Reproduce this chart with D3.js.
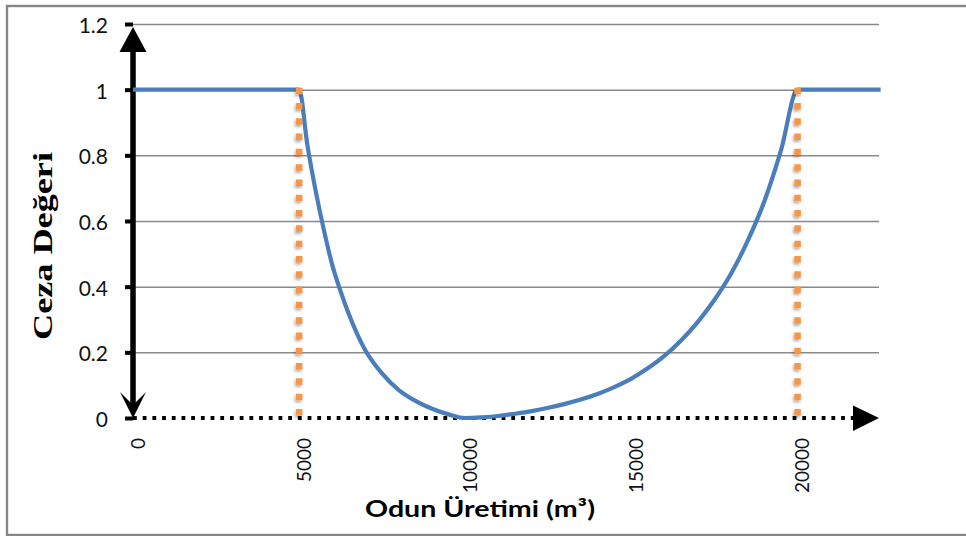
<!DOCTYPE html>
<html>
<head>
<meta charset="utf-8">
<script src="https://cdn.jsdelivr.net/npm/d3@7"></script>
<style>
  html, body { margin: 0; padding: 0; background: #fff; }
  svg { display: block; }
</style>
</head>
<body>
<svg id="chart" width="966" height="536"></svg>
<script>
// Penalty curve: wood production (m³) vs. penalty value
const productionValues = [0, 5000, 5250, 5500, 5750, 6000, 6250, 6500, 6750, 7000, 7500, 8000, 8500, 9000, 9500, 10000,
  10500, 11000, 11500, 12000, 12500, 13000, 13500, 14000, 14500, 15000, 15500, 16000, 16500, 17000, 17500,
  18000, 18500, 19000, 19500, 20000, 22500];
const penaltyValues = [1, 1, 0.83, 0.69, 0.57, 0.465, 0.385, 0.315, 0.255, 0.205, 0.135, 0.085, 0.052, 0.028, 0.011, 0,
  0.002, 0.006, 0.013, 0.021, 0.031, 0.043, 0.057, 0.074, 0.095, 0.12, 0.152, 0.19, 0.237, 0.293, 0.36,
  0.44, 0.54, 0.66, 0.815, 1, 1];

// Lower and upper production limits
const limitValues = [5000, 20000];

const yTickValues = [0, 0.2, 0.4, 0.6, 0.8, 1, 1.2];
const xTickValues = [0, 5000, 10000, 15000, 20000];

const yTitle = "Ceza Değeri";
const xTitle = "Odun Üretimi (m³)";

const svg = d3.select("#chart");

const x = d3.scaleLinear().domain([0, 22450]).range([133, 879]);
const y = d3.scaleLinear().domain([0, 1.2]).range([418, 24]);

// Outer frame
svg.append("rect")
  .attr("x", 7).attr("y", 6)
  .attr("width", 970).attr("height", 529)
  .attr("fill", "none")
  .attr("stroke", "#868686")
  .attr("stroke-width", 2.4);

const defs = svg.append("defs");
const shadow = defs.append("filter").attr("id", "soft-shadow")
  .attr("x", "-50%").attr("y", "-5%").attr("width", "200%").attr("height", "110%");
shadow.append("feDropShadow")
  .attr("dx", -1).attr("dy", 2).attr("stdDeviation", 1.8)
  .attr("flood-color", "#000").attr("flood-opacity", 0.35);

// Horizontal gridlines
svg.append("g")
  .attr("transform", `translate(${x(0)},0)`)
  .call(d3.axisLeft(y).tickValues(yTickValues.filter(v => v > 0))
    .tickSize(-(x.range()[1] - x.range()[0])).tickFormat(""))
  .call(g => g.select(".domain").remove())
  .call(g => g.selectAll(".tick line").attr("stroke", "#898989").attr("stroke-width", 1.5));

// Y axis ticks and labels
svg.append("g")
  .attr("transform", `translate(${x(0)},0)`)
  .call(d3.axisLeft(y).tickValues(yTickValues).tickSize(8).tickPadding(17)
    .tickFormat(d => d3.format("")(+d.toFixed(1))))
  .call(g => g.select(".domain").remove())
  .call(g => g.selectAll(".tick line").attr("stroke", "#000").attr("stroke-width", 4))
  .call(g => g.selectAll(".tick text")
    .attr("font-family", "Lato, 'Open Sans', sans-serif")
    .attr("font-size", 21)
    .attr("fill", "#111")
    .attr("dy", "0.4em"));

// X axis labels (rotated)
svg.append("g")
  .attr("transform", `translate(0,${y(0)})`)
  .call(d3.axisBottom(x).tickValues(xTickValues).tickSize(0).tickFormat(d3.format("d")))
  .call(g => g.select(".domain").remove())
  .call(g => g.selectAll(".tick text")
    .attr("font-family", "Lato, 'Open Sans', sans-serif")
    .attr("font-size", 19)
    .attr("fill", "#111")
    .attr("text-anchor", "end")
    .attr("y", 0).attr("dy", 0)
    .attr("transform", "translate(11,20) rotate(-90)"));

// Dotted x axis with arrow
svg.append("line")
  .attr("x1", x(0)).attr("x2", 853)
  .attr("y1", y(0)).attr("y2", y(0))
  .attr("stroke", "#000").attr("stroke-width", 4)
  .attr("stroke-dasharray", "3.8 5.9");
svg.append("path")
  .attr("d", `M853,${y(0) - 12.5} L879,${y(0)} L853,${y(0) + 13} Z`)
  .attr("fill", "#000");

// Y axis line with arrows on both ends
svg.append("line")
  .attr("x1", x(0)).attr("x2", x(0))
  .attr("y1", 51).attr("y2", y(0) - 6)
  .attr("stroke", "#000").attr("stroke-width", 5.5);
svg.append("path")
  .attr("d", `M${x(0)},27 L${x(0) + 13.5},52 L${x(0) - 13.5},52 Z`)
  .attr("fill", "#000");
svg.append("path")
  .attr("d", `M${x(0)},${y(0)} L${x(0) - 13},${y(0) - 26} L${x(0)},${y(0) - 13} L${x(0) + 13},${y(0) - 26} Z`)
  .attr("fill", "#000");

// Penalty curve
const points = productionValues.map((p, i) => [p, penaltyValues[i]]);
svg.append("path")
  .datum(points)
  .attr("fill", "none")
  .attr("stroke", "#4A7EBB")
  .attr("stroke-width", 4.2)
  .attr("d", d3.line().x(d => x(d[0])).y(d => y(d[1])).curve(d3.curveMonotoneX));

// Limit markers (orange dotted verticals)
svg.append("g")
  .attr("filter", "url(#soft-shadow)")
  .selectAll("line")
  .data(limitValues)
  .join("line")
  .attr("x1", d => x(d)).attr("x2", d => x(d))
  .attr("y1", y(1) - 2).attr("y2", y(0))
  .attr("stroke", "#F79646")
  .attr("stroke-width", 6.5)
  .attr("stroke-dasharray", "6.5 8.8");

// Axis titles
svg.append("text")
  .attr("transform", "translate(52,246) rotate(-90)")
  .attr("text-anchor", "middle")
  .attr("font-family", "'Liberation Serif', 'Times New Roman', serif")
  .attr("font-weight", "bold")
  .attr("font-size", 27)
  .attr("textLength", 188)
  .attr("lengthAdjust", "spacingAndGlyphs")
  .attr("fill", "#000")
  .text(yTitle);

svg.append("text")
  .attr("x", 480).attr("y", 517)
  .attr("text-anchor", "middle")
  .attr("font-family", "Lato, 'Open Sans', sans-serif")
  .attr("font-weight", "bold")
  .attr("font-size", 23)
  .attr("textLength", 230)
  .attr("lengthAdjust", "spacingAndGlyphs")
  .attr("fill", "#000")
  .text(xTitle);
</script>
</body>
</html>
